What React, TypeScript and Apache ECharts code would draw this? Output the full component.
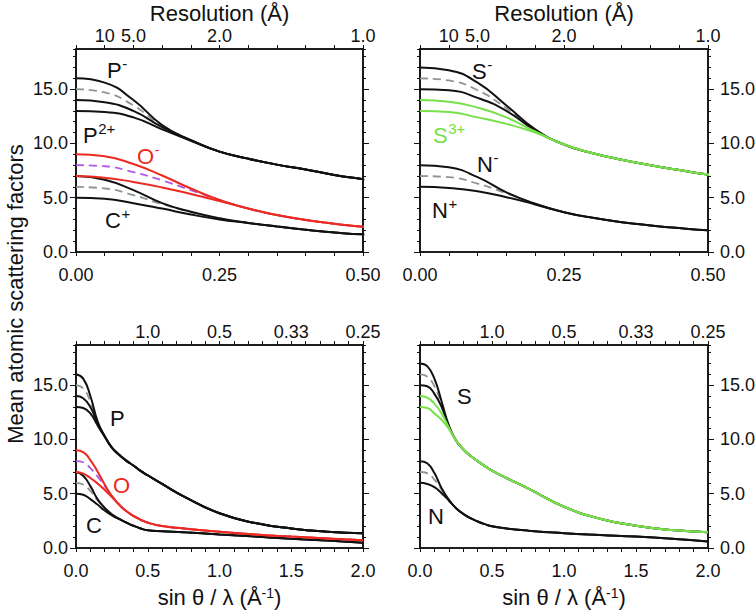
import React, { useEffect, useRef } from 'react';
import * as echarts from 'echarts';

// sin(theta)/lambda sample positions (1/Å)
const S_POINTS = [0, 0.05, 0.1, 0.15, 0.2, 0.25, 0.3, 0.35, 0.4, 0.45, 0.5, 0.6, 0.75, 1.0, 1.25, 1.5, 1.75, 2.0];

// Phosphorus (shared tail from s = 0.25)
const P_TAIL = [9.25, 8.6, 8.05, 7.6, 7.1, 6.7, 5.9, 4.75, 3.2, 2.3, 1.8, 1.5, 1.35];
const P_MINUS = [16.0, 15.6, 14.0, 11.7, 10.3, ...P_TAIL];
const P_NEUTRAL = [15.0, 14.7, 13.5, 11.6, 10.3, ...P_TAIL];
const P_PLUS = [14.0, 13.8, 13.0, 11.5, 10.3, ...P_TAIL];
const P_2PLUS = [13.0, 12.9, 12.4, 11.3, 10.25, ...P_TAIL];

// Oxygen (shared tail from s = 0.3)
const O_TAIL = [4.0, 3.4, 2.95, 2.6, 2.33, 2.02, 1.8, 1.5, 1.25, 1.05, 0.88, 0.72];
const O_MINUS = [9.0, 8.83, 8.1, 7.05, 5.85, 4.8, ...O_TAIL];
const O_NEUTRAL = [8.0, 7.9, 7.35, 6.6, 5.7, 4.8, ...O_TAIL];
const O_PLUS = [7.0, 6.85, 6.45, 5.95, 5.35, 4.7, ...O_TAIL];

// Carbon (shared tail from s = 0.3)
const C_TAIL = [2.68, 2.35, 2.05, 1.8, 1.63, 1.54, 1.45, 1.25, 1.05, 0.86, 0.68, 0.48];
const C_MINUS = [7.0, 6.65, 5.7, 4.5, 3.7, 3.1, ...C_TAIL];
const C_NEUTRAL = [6.0, 5.85, 5.25, 4.4, 3.7, 3.1, ...C_TAIL];
const C_PLUS = [5.0, 4.9, 4.5, 4.0, 3.45, 3.0, ...C_TAIL];

// Sulfur (shared tail from s = 0.25)
const S_TAIL = [9.9, 9.1, 8.5, 8.0, 7.55, 7.13, 6.45, 5.5, 3.8, 2.7, 2.05, 1.65, 1.45];
const S_MINUS = [17.0, 16.75, 15.6, 13.5, 11.3, ...S_TAIL];
const S_NEUTRAL = [16.0, 15.8, 14.9, 13.25, 11.25, ...S_TAIL];
const S_PLUS = [15.0, 14.9, 14.2, 13.0, 11.2, ...S_TAIL];
const S_2PLUS = [14.0, 13.85, 13.3, 12.4, 11.1, ...S_TAIL];
const S_3PLUS = [13.0, 12.9, 12.4, 11.8, 11.0, ...S_TAIL];

// Nitrogen (shared tail from s = 0.25)
const N_TAIL = [3.67, 3.15, 2.75, 2.45, 2.2, 2.0, 1.8, 1.6, 1.37, 1.2, 1.05, 0.85, 0.6];
const N_MINUS = [8.0, 7.8, 6.9, 5.5, 4.45, ...N_TAIL];
const N_NEUTRAL = [7.0, 6.9, 6.3, 5.4, 4.45, ...N_TAIL];
const N_PLUS = [6.0, 5.9, 5.6, 5.05, 4.38, ...N_TAIL];

// Axis tick labels
const Y_MAX = 18.7;
const Y_LABELS = [0, 5, 10, 15];
const ZOOM_X_LABELS = [0, 0.25, 0.5];
const ZOOM_RES_POS = [0.05, 0.1, 0.25, 0.5];
const ZOOM_RES_LABELS = ['10', '5.0', '2.0', '1.0'];
const FULL_X_LABELS = [0, 0.5, 1.0, 1.5, 2.0];
const FULL_RES_POS = [0.5, 1.0, 1.5, 2.0];
const FULL_RES_LABELS = ['1.0', '0.5', '0.33', '0.25'];

const BLACK = '#111111';
const GRAY = '#8d9696';
const RED = '#ec2a22';
const PURPLE = '#b25ae6';
const GREEN = '#78e04a';
const FONT = '"Liberation Sans", Arial, Helvetica, sans-serif';

type Curve = { data: number[]; color: string; dashed?: boolean };

const LEFT_CURVES: Curve[] = [
  { data: C_NEUTRAL, color: GRAY, dashed: true },
  { data: C_PLUS, color: BLACK },
  { data: C_MINUS, color: BLACK },
  { data: O_NEUTRAL, color: PURPLE, dashed: true },
  { data: O_PLUS, color: RED },
  { data: O_MINUS, color: RED },
  { data: P_NEUTRAL, color: GRAY, dashed: true },
  { data: P_2PLUS, color: BLACK },
  { data: P_PLUS, color: BLACK },
  { data: P_MINUS, color: BLACK },
];

const RIGHT_CURVES: Curve[] = [
  { data: N_NEUTRAL, color: GRAY, dashed: true },
  { data: N_PLUS, color: BLACK },
  { data: N_MINUS, color: BLACK },
  { data: S_NEUTRAL, color: GRAY, dashed: true },
  { data: S_PLUS, color: BLACK },
  { data: S_MINUS, color: BLACK },
  { data: S_3PLUS, color: GREEN },
  { data: S_2PLUS, color: GREEN },
];

type Panel = {
  left: number; top: number; width: number; height: number;
  xMax: number; xInterval: number; xLabels: number[]; xDigits: number;
  resPos: number[]; resLabels: string[];
  labelSide: 'left' | 'right'; curves: Curve[];
};

const PANELS: Panel[] = [
  { left: 76, top: 49, width: 287, height: 203, xMax: 0.5, xInterval: 0.05, xLabels: ZOOM_X_LABELS, xDigits: 2,
    resPos: ZOOM_RES_POS, resLabels: ZOOM_RES_LABELS, labelSide: 'left', curves: LEFT_CURVES },
  { left: 420, top: 49, width: 288, height: 203, xMax: 0.5, xInterval: 0.05, xLabels: ZOOM_X_LABELS, xDigits: 2,
    resPos: ZOOM_RES_POS, resLabels: ZOOM_RES_LABELS, labelSide: 'right', curves: RIGHT_CURVES },
  { left: 76, top: 345, width: 287, height: 203, xMax: 2.0, xInterval: 0.1, xLabels: FULL_X_LABELS, xDigits: 1,
    resPos: FULL_RES_POS, resLabels: FULL_RES_LABELS, labelSide: 'left', curves: LEFT_CURVES },
  { left: 420, top: 345, width: 288, height: 203, xMax: 2.0, xInterval: 0.1, xLabels: FULL_X_LABELS, xDigits: 1,
    resPos: FULL_RES_POS, resLabels: FULL_RES_LABELS, labelSide: 'right', curves: RIGHT_CURVES },
];

const BASE_WIDTH: Record<string, number> = { P: 14.7, S: 14.7, C: 15.9, N: 15.9, O: 17.1 };

const ANNOTATIONS: { x: number; y: number; base: string; sup: string; color: string }[] = [
  { x: 107, y: 70, base: 'P', sup: '-', color: BLACK },
  { x: 83, y: 135, base: 'P', sup: '2+', color: BLACK },
  { x: 137, y: 156, base: 'O', sup: '-', color: RED },
  { x: 105, y: 220, base: 'C', sup: '+', color: BLACK },
  { x: 472, y: 71, base: 'S', sup: '-', color: BLACK },
  { x: 433, y: 135, base: 'S', sup: '3+', color: GREEN },
  { x: 477, y: 164, base: 'N', sup: '-', color: BLACK },
  { x: 432, y: 210, base: 'N', sup: '+', color: BLACK },
  { x: 110, y: 418, base: 'P', sup: '', color: BLACK },
  { x: 113, y: 485, base: 'O', sup: '', color: RED },
  { x: 86, y: 525, base: 'C', sup: '', color: BLACK },
  { x: 457, y: 396, base: 'S', sup: '', color: BLACK },
  { x: 428, y: 516, base: 'N', sup: '', color: BLACK },
];

function lookupLabel(pos: number[], labels: string[], v: number) {
  const i = pos.findIndex((p) => Math.abs(p - v) < 1e-6);
  return i >= 0 ? labels[i] : '';
}

function buildOption() {
  const labelStyle = { color: BLACK, fontSize: 18, fontFamily: FONT };
  const axisLine = { show: true, onZero: false, lineStyle: { color: BLACK, width: 1.6 } };
  const tick = (len: number) => ({ show: true, inside: false, length: len, lineStyle: { color: BLACK, width: 1 } });

  const grid = PANELS.map((p) => ({
    left: p.left, top: p.top, width: p.width, height: p.height, containLabel: false, outerBoundsMode: 'none',
    show: true, borderWidth: 1.6, borderColor: BLACK, backgroundColor: 'transparent',
  }));

  const xAxis = PANELS.flatMap((p, g) => [
    {
      gridIndex: g, type: 'value', position: 'bottom', min: 0, max: p.xMax, interval: p.xInterval,
      axisLine, axisTick: tick(4), splitLine: { show: false },
      axisLabel: {
        ...labelStyle, margin: 14, customValues: p.xLabels,
        formatter: (v: number) => v.toFixed(p.xDigits),
      },
    },
    {
      gridIndex: g, type: 'value', position: 'top', min: 0, max: p.xMax, interval: p.xInterval,
      axisLine, axisTick: tick(4), splitLine: { show: false },
      axisLabel: {
        ...labelStyle, margin: 4, customValues: p.resPos,
        formatter: (v: number) => lookupLabel(p.resPos, p.resLabels, v),
      },
    },
  ]);

  const yAxis = PANELS.flatMap((p, g) => {
    const minor = (side: 'left' | 'right') => ({
      gridIndex: g, type: 'value', position: side, min: 0, max: Y_MAX, interval: 1,
      axisLine, axisTick: tick(3), splitLine: { show: false },
      axisLabel: {
        ...labelStyle, show: p.labelSide === side, margin: side === 'left' ? 8 : 12,
        customValues: Y_LABELS, formatter: (v: number) => v.toFixed(1),
      },
    });
    const major = (side: 'left' | 'right') => ({
      gridIndex: g, type: 'value', position: side, min: 0, max: Y_MAX,
      axisLine: { show: false, onZero: false }, axisTick: { ...tick(6), customValues: Y_LABELS },
      axisLabel: { show: false }, splitLine: { show: false },
    });
    return [minor('left'), minor('right'), major('left'), major('right')];
  });

  const series = PANELS.flatMap((p, g) =>
    p.curves.map((c) => ({
      type: 'line', xAxisIndex: 2 * g, yAxisIndex: 4 * g,
      data: S_POINTS.map((s, i) => [s, c.data[i]]),
      showSymbol: false, symbol: 'none', smooth: 0.5, clip: true, silent: true,
      lineStyle: { color: c.color, width: c.dashed ? 1.8 : 2, type: c.dashed ? [8, 5] : 'solid' },
    }))
  );

  const titleStyle = { fontSize: 22, fontFamily: FONT, fill: BLACK, align: 'center', verticalAlign: 'middle' };
  const graphic: any[] = [
    { type: 'text', x: 219.5, y: 13, style: { ...titleStyle, text: 'Resolution (Å)' } },
    { type: 'text', x: 564, y: 13, style: { ...titleStyle, text: 'Resolution (Å)' } },
    {
      type: 'text', x: 15, y: 294, rotation: Math.PI / 2,
      style: { ...titleStyle, text: 'Mean atomic scattering factors' },
    },
  ];
  [219.5, 564].forEach((cx) => {
    graphic.push({
      type: 'text', x: cx, y: 597,
      style: {
        text: '{a|sin θ / λ (Å}{s|-1}{a|)}', align: 'center', verticalAlign: 'middle',
        rich: {
          a: { fontSize: 22, fontFamily: FONT, fill: BLACK },
          s: { fontSize: 14, fontFamily: FONT, fill: BLACK, verticalAlign: 'top' },
        },
      },
    });
  });
  ANNOTATIONS.forEach((a) => {
    graphic.push({
      type: 'text', x: a.x, y: a.y,
      style: { text: a.base, fontSize: 22, fontFamily: FONT, fill: a.color, align: 'left', verticalAlign: 'middle' },
    });
    if (a.sup) {
      graphic.push({
        type: 'text', x: a.x + BASE_WIDTH[a.base] + 0.5, y: a.y - 7,
        style: { text: a.sup, fontSize: 15, fontFamily: FONT, fill: a.color, align: 'left', verticalAlign: 'middle' },
      });
    }
  });

  return { animation: false, backgroundColor: '#ffffff', grid, xAxis, yAxis, series, graphic };
}

export default function App() {
  const ref = useRef<HTMLDivElement>(null);
  useEffect(() => {
    if (!ref.current) return;
    const chart = echarts.init(ref.current, undefined, { renderer: 'svg' });
    chart.setOption(buildOption() as any);
    return () => chart.dispose();
  }, []);
  return <div ref={ref} style={{ position: 'fixed', left: 0, top: 0, width: 756, height: 613 }} />;
}
